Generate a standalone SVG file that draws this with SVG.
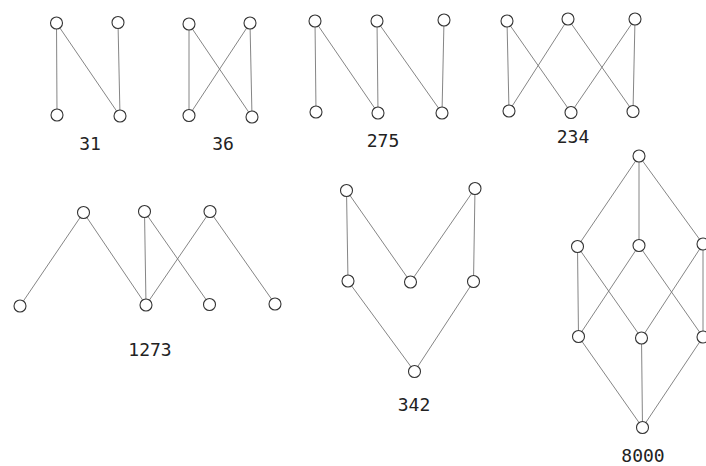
<svg xmlns="http://www.w3.org/2000/svg" width="706" height="466" viewBox="0 0 706 466">
<style>
.e{stroke:#777;stroke-width:0.9;fill:none}
.n{fill:#fff;stroke:#333;stroke-width:1.1}
.t{font-family:"DejaVu Sans Mono","Liberation Mono",monospace;font-size:18px;fill:#222;text-anchor:middle}
</style>
<rect width="706" height="466" fill="#fff"/>
<g id="connectors">
<!-- 31 -->
<line class="e" x1="56.5" y1="23" x2="57" y2="115"/>
<line class="e" x1="56.5" y1="23" x2="120" y2="116"/>
<line class="e" x1="118" y1="22.5" x2="120" y2="116"/>
<!-- 36 -->
<line class="e" x1="189" y1="24" x2="189" y2="115.5"/>
<line class="e" x1="189" y1="24" x2="252" y2="117"/>
<line class="e" x1="250" y1="23" x2="189" y2="115.5"/>
<line class="e" x1="250" y1="23" x2="252" y2="117"/>
<!-- 275 -->
<line class="e" x1="315" y1="21" x2="316" y2="112"/>
<line class="e" x1="315" y1="21" x2="378" y2="113"/>
<line class="e" x1="377" y1="21" x2="378" y2="113"/>
<line class="e" x1="377" y1="21" x2="442" y2="113"/>
<line class="e" x1="444" y1="20" x2="442" y2="113"/>
<!-- 234 -->
<line class="e" x1="507" y1="21" x2="509" y2="111"/>
<line class="e" x1="507" y1="21" x2="571" y2="112.5"/>
<line class="e" x1="568" y1="19" x2="509" y2="111"/>
<line class="e" x1="568" y1="19" x2="633" y2="111.5"/>
<line class="e" x1="635" y1="19" x2="571" y2="112.5"/>
<line class="e" x1="635" y1="19" x2="633" y2="111.5"/>
<!-- 1273 -->
<line class="e" x1="83.5" y1="212.5" x2="20" y2="306"/>
<line class="e" x1="83.5" y1="212.5" x2="146" y2="305"/>
<line class="e" x1="144.5" y1="211.5" x2="146" y2="305"/>
<line class="e" x1="144.5" y1="211.5" x2="209.5" y2="304.5"/>
<line class="e" x1="210" y1="211.5" x2="146" y2="305"/>
<line class="e" x1="210" y1="211.5" x2="275" y2="304"/>
<!-- 342 -->
<line class="e" x1="346.5" y1="190.5" x2="348" y2="281"/>
<line class="e" x1="346.5" y1="190.5" x2="410.5" y2="282"/>
<line class="e" x1="475" y1="188.5" x2="410.5" y2="282"/>
<line class="e" x1="475" y1="188.5" x2="473.5" y2="281.5"/>
<line class="e" x1="348" y1="281" x2="414.5" y2="371.5"/>
<line class="e" x1="473.5" y1="281.5" x2="414.5" y2="371.5"/>
<!-- 8000 -->
<line class="e" x1="639" y1="156" x2="577.5" y2="246.5"/>
<line class="e" x1="639" y1="156" x2="639" y2="245.5"/>
<line class="e" x1="639" y1="156" x2="703" y2="244"/>
<line class="e" x1="577.5" y1="246.5" x2="578.5" y2="336.5"/>
<line class="e" x1="577.5" y1="246.5" x2="641.5" y2="338"/>
<line class="e" x1="639" y1="245.5" x2="578.5" y2="336.5"/>
<line class="e" x1="639" y1="245.5" x2="703" y2="337"/>
<line class="e" x1="703" y1="244" x2="641.5" y2="338"/>
<line class="e" x1="703" y1="244" x2="703" y2="337"/>
<line class="e" x1="578.5" y1="336.5" x2="642.5" y2="427.5"/>
<line class="e" x1="641.5" y1="338" x2="642.5" y2="427.5"/>
<line class="e" x1="703" y1="337" x2="642.5" y2="427.5"/>
</g>
<g id="g31">
<circle class="n" cx="56.5" cy="23" r="6"/><circle class="n" cx="118" cy="22.5" r="6"/>
<circle class="n" cx="57" cy="115" r="6"/><circle class="n" cx="120" cy="116" r="6"/>
<text class="t" x="90" y="150">31</text>
</g>
<g id="g36">
<circle class="n" cx="189" cy="24" r="6"/><circle class="n" cx="250" cy="23" r="6"/>
<circle class="n" cx="189" cy="115.5" r="6"/><circle class="n" cx="252" cy="117" r="6"/>
<text class="t" x="223" y="150">36</text>
</g>
<g id="g275">
<circle class="n" cx="315" cy="21" r="6"/><circle class="n" cx="377" cy="21" r="6"/><circle class="n" cx="444" cy="20" r="6"/>
<circle class="n" cx="316" cy="112" r="6"/><circle class="n" cx="378" cy="113" r="6"/><circle class="n" cx="442" cy="113" r="6"/>
<text class="t" x="383" y="147">275</text>
</g>
<g id="g234">
<circle class="n" cx="507" cy="21" r="6"/><circle class="n" cx="568" cy="19" r="6"/><circle class="n" cx="635" cy="19" r="6"/>
<circle class="n" cx="509" cy="111" r="6"/><circle class="n" cx="571" cy="112.5" r="6"/><circle class="n" cx="633" cy="111.5" r="6"/>
<text class="t" x="573" y="143">234</text>
</g>
<g id="g1273">
<circle class="n" cx="83.5" cy="212.5" r="6"/><circle class="n" cx="144.5" cy="211.5" r="6"/><circle class="n" cx="210" cy="211.5" r="6"/>
<circle class="n" cx="20" cy="306" r="6"/><circle class="n" cx="146" cy="305" r="6"/><circle class="n" cx="209.5" cy="304.5" r="6"/><circle class="n" cx="275" cy="304" r="6"/>
<text class="t" x="150" y="356">1273</text>
</g>
<g id="g342">
<circle class="n" cx="346.5" cy="190.5" r="6"/><circle class="n" cx="475" cy="188.5" r="6"/>
<circle class="n" cx="348" cy="281" r="6"/><circle class="n" cx="410.5" cy="282" r="6"/><circle class="n" cx="473.5" cy="281.5" r="6"/>
<circle class="n" cx="414.5" cy="371.5" r="6"/>
<text class="t" x="414" y="411">342</text>
</g>
<g id="g8000">
<circle class="n" cx="639" cy="156" r="6"/>
<circle class="n" cx="577.5" cy="246.5" r="6"/><circle class="n" cx="639" cy="245.5" r="6"/><circle class="n" cx="703" cy="244" r="6"/>
<circle class="n" cx="578.5" cy="336.5" r="6"/><circle class="n" cx="641.5" cy="338" r="6"/><circle class="n" cx="703" cy="337" r="6"/>
<circle class="n" cx="642.5" cy="427.5" r="6"/>
<text class="t" x="643" y="462">8000</text>
</g>
</svg>
